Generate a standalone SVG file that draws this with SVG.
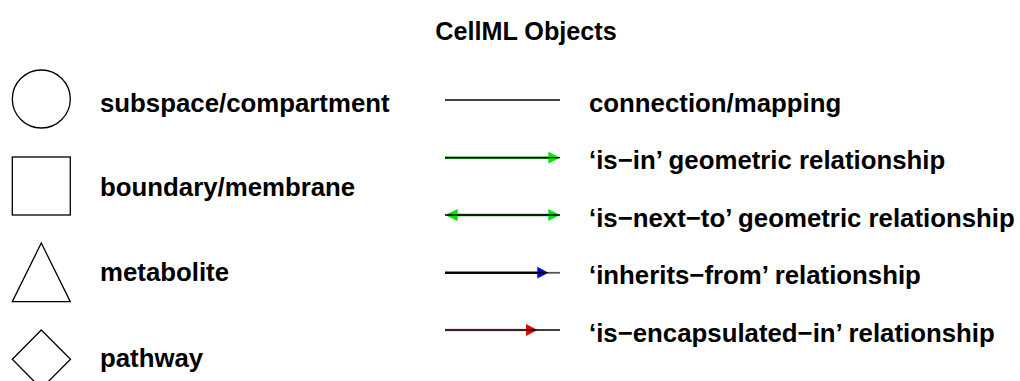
<svg xmlns="http://www.w3.org/2000/svg" width="1020" height="381" viewBox="0 0 1020 381">
<style>
text{font-family:"Liberation Sans",Arial,sans-serif;font-weight:bold;fill:#000}
.lbl{font-size:25.8px}
.title{font-size:25.2px}
.shape{fill:none;stroke:#000;stroke-width:1.3}
.wire{stroke:#000;stroke-width:1.3}
</style>
<rect width="1020" height="381" fill="#fff"/>
<text class="title" x="526" y="39.5" text-anchor="middle">CellML Objects</text>
<g id="subspace"><circle class="shape" cx="41.3" cy="99" r="29"/><text class="lbl" x="100" y="111.5">subspace/compartment</text></g>
<g id="boundary"><rect class="shape" x="12.3" y="157" width="58" height="58"/><text class="lbl" x="100" y="196">boundary/membrane</text></g>
<g id="metabolite"><polygon class="shape" points="41.3,243 70.3,301.7 12.3,301.7"/><text class="lbl" x="100" y="281">metabolite</text></g>
<g id="pathway"><polygon class="shape" points="41.3,330 70.5,359.3 41.3,388.6 12.3,359.3"/><text class="lbl" x="100" y="367">pathway</text></g>
<g id="connectors">
<line x1="445" y1="100" x2="560" y2="100" class="wire" stroke="#333"/>
<line x1="445" y1="157.7" x2="549" y2="157.7" stroke="#1a8a1a" stroke-width="2.4"/>
<polygon points="548.3,151.8 560,157.7 548.3,163.6" fill="#00e600"/>
<line x1="445" y1="157.7" x2="560" y2="157.7" class="wire"/>
<line x1="457" y1="215" x2="549" y2="215" stroke="#1a8a1a" stroke-width="2.4"/>
<polygon points="548.3,209.1 560,215 548.3,220.9" fill="#00e600"/>
<polygon points="457.7,209.1 445,215 457.7,220.9" fill="#00e600"/>
<line x1="445" y1="215" x2="560" y2="215" class="wire"/>
<line x1="445" y1="272.7" x2="538" y2="272.7" stroke="#000066" stroke-width="2.4"/>
<polygon points="537.3,266.8 548.5,272.7 537.3,278.6" fill="#0000e6"/>
<line x1="445" y1="272.7" x2="560" y2="272.7" class="wire" stroke="#333"/>
<line x1="548" y1="272.7" x2="560" y2="272.7" stroke="#555" stroke-width="1.6"/>
<line x1="445" y1="330" x2="527" y2="330" stroke="#c89090" stroke-width="2.4"/>
<polygon points="526,324.1 537.5,330 526,335.9" fill="#e60000"/>
<line x1="445" y1="330" x2="560" y2="330" class="wire"/>
</g>
<g id="legend-labels">
<text class="lbl" x="589" y="111.5">connection/mapping</text>
<text class="lbl" x="589" y="169">‘is−in’ geometric relationship</text>
<text class="lbl" x="589" y="226.5">‘is−next−to’ geometric relationship</text>
<text class="lbl" x="589" y="284">‘inherits−from’ relationship</text>
<text class="lbl" x="589" y="341.5">‘is−encapsulated−in’ relationship</text>
</g>
</svg>
